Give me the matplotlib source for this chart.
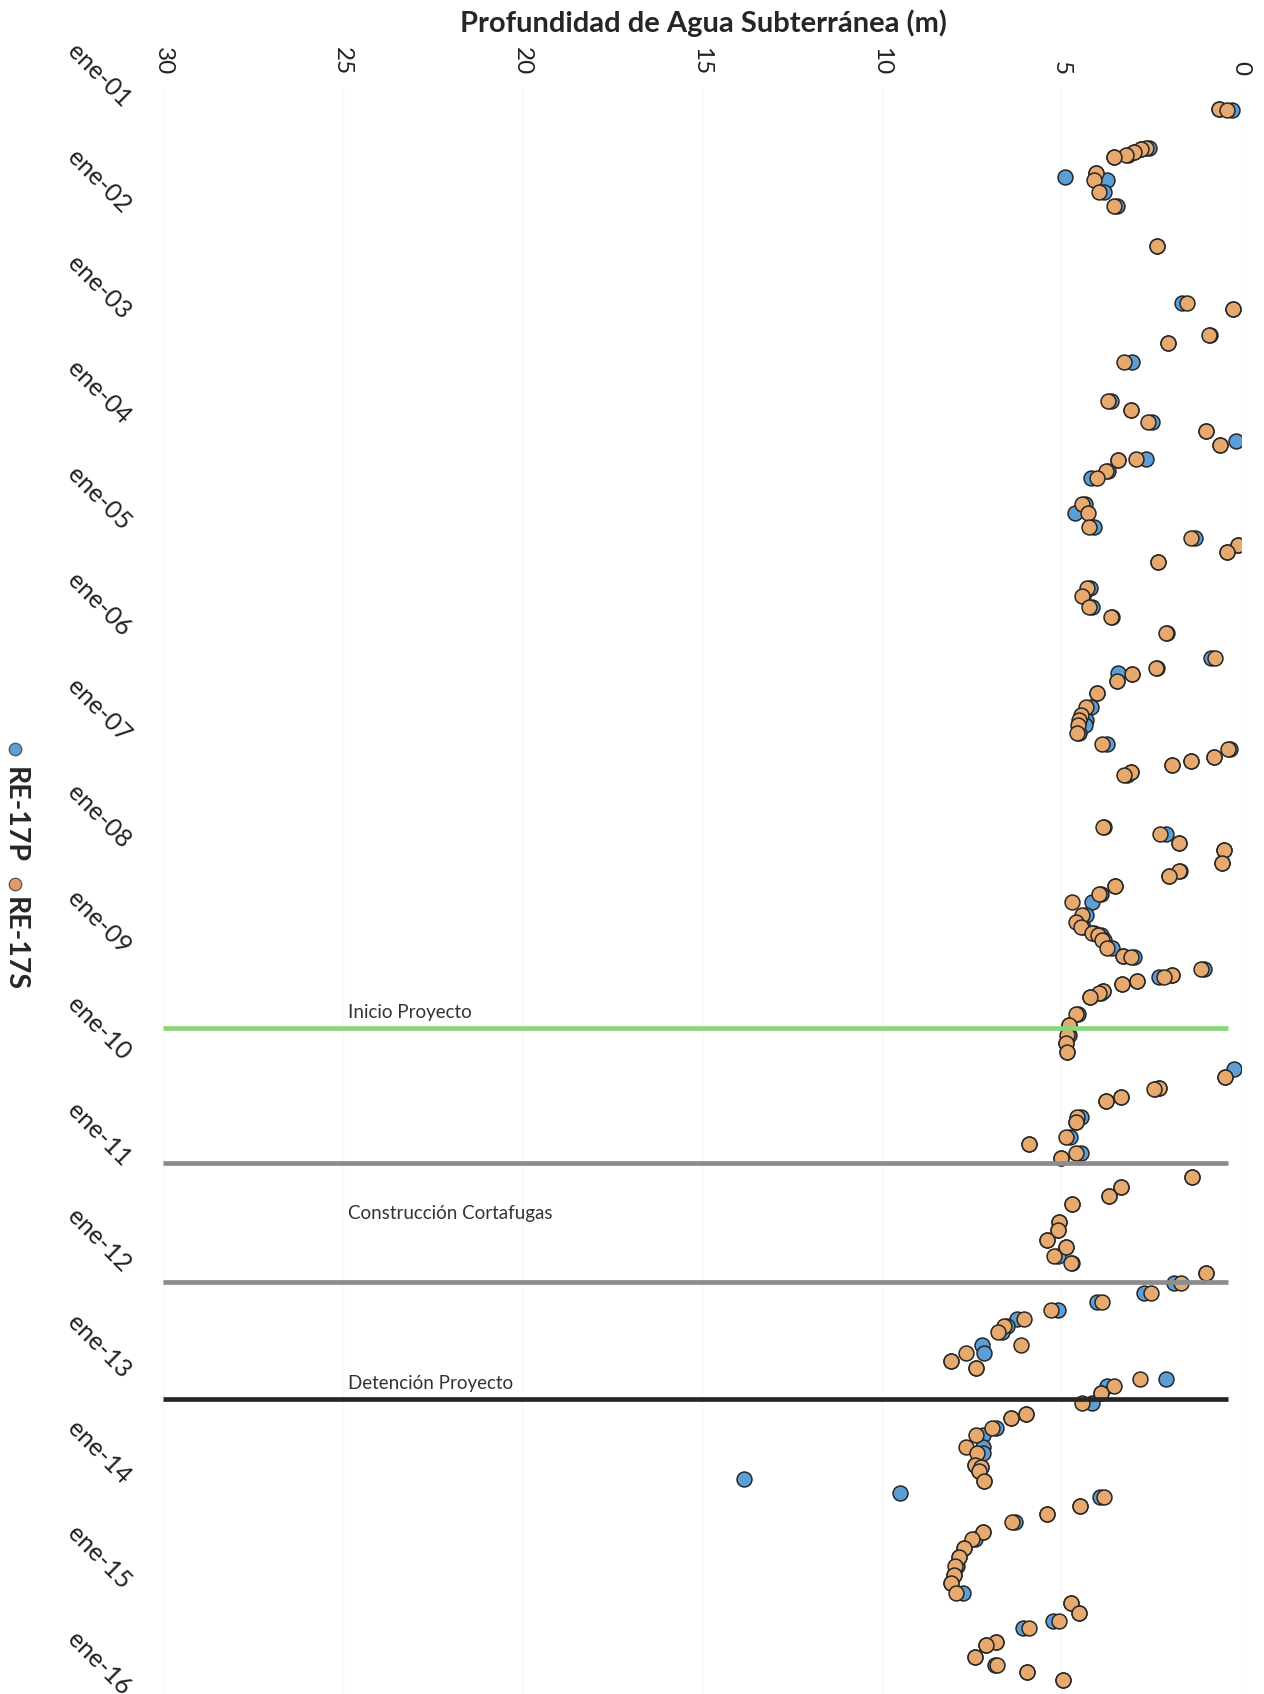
import numpy as np
import pandas as pd
import matplotlib
matplotlib.use('Agg')
import matplotlib.pyplot as plt
import matplotlib.dates as mdates
from matplotlib.lines import Line2D
from matplotlib.ticker import FuncFormatter

plt.rcParams['font.family'] = ['Lato', 'DejaVu Sans']

# Fechas de medicion (comunes a ambos pozos)
fechas = [
    '2001-01-23', '2001-01-26', '2001-06-05', '2001-06-08', '2001-06-19', '2001-06-29',
    '2001-07-06', '2001-08-30', '2001-09-23', '2001-11-03', '2001-12-21', '2002-05-08',
    '2002-11-22', '2002-12-12', '2003-03-11', '2003-04-10', '2003-06-12', '2003-10-24',
    '2003-11-24', '2004-01-05', '2004-02-05', '2004-03-24', '2004-05-12', '2004-05-15',
    '2004-06-22', '2004-07-16', '2004-10-14', '2004-11-14', '2005-01-02', '2005-02-09',
    '2005-03-05', '2005-03-29', '2005-05-03', '2005-07-31', '2005-08-28', '2005-10-05',
    '2005-11-08', '2006-01-02', '2006-03-29', '2006-05-03', '2006-05-24', '2006-06-17',
    '2006-07-28', '2006-09-14', '2006-10-12', '2006-10-29', '2006-11-15', '2006-12-13',
    '2007-01-20', '2007-02-06', '2007-03-06', '2007-03-19', '2007-04-02', '2007-04-26',
    '2007-05-07', '2007-11-02', '2007-11-26', '2007-12-27', '2008-01-20', '2008-03-05',
    '2008-04-02', '2008-04-19', '2008-05-24', '2008-06-20', '2008-07-18', '2008-09-01',
    '2008-09-25', '2008-10-12', '2008-11-02', '2008-11-09', '2008-11-26', '2008-12-24',
    '2009-01-21', '2009-01-24', '2009-03-07', '2009-03-27', '2009-04-03', '2009-04-17',
    '2009-04-27', '2009-05-21', '2009-05-28', '2009-06-11', '2009-08-08', '2009-09-15',
    '2009-10-20', '2009-11-16', '2009-12-17', '2010-03-13', '2010-04-20', '2010-04-23',
    '2010-05-21', '2010-06-04', '2010-07-29', '2010-08-15', '2010-10-06', '2010-10-30',
    '2010-11-30', '2010-12-17', '2011-02-21', '2011-03-30', '2011-04-27', '2011-05-25',
    '2011-07-26', '2011-08-22', '2011-09-26', '2011-10-23', '2011-11-20', '2011-12-14',
    '2012-01-18', '2012-02-22', '2012-03-28', '2012-04-28', '2012-05-26', '2012-06-26',
    '2012-07-20', '2012-08-09', '2012-09-23', '2012-10-21', '2012-11-17', '2012-12-11',
    '2013-01-18', '2013-02-12', '2013-03-07', '2013-04-11', '2013-05-19', '2013-06-02',
    '2013-07-06', '2013-07-30', '2013-09-10', '2013-09-30', '2013-11-10', '2013-11-17',
    '2013-12-01', '2014-01-05', '2014-03-01', '2014-04-01', '2014-04-28', '2014-05-26',
    '2014-06-30', '2014-07-24', '2014-08-24', '2014-09-24', '2014-10-25', '2014-11-24',
    '2014-12-22', '2015-01-25', '2015-03-01', '2015-04-04', '2015-05-02', '2015-05-26',
    '2015-07-13', '2015-07-24', '2015-09-03', '2015-10-01', '2015-10-25', '2015-11-21',
]

# Profundidad (m) pozo RE-17S
prof_re17s = [
    0.61, 0.39, 2.65, 2.79, 2.98, 3.20,
    3.54, 4.04, 4.09, 3.96, 3.54, 2.34,
    1.50, 0.22, 0.89, 2.03, 3.26, 3.70,
    3.06, 2.59, 0.97, 0.58, 2.92, 3.43,
    3.76, 4.01, 4.43, 4.26, 4.23, 1.39,
    0.08, 0.39, 2.31, 4.29, 4.43, 4.23,
    3.62, 2.09, 0.72, 2.37, 3.04, 3.45,
    4.01, 4.32, 4.46, 4.51, 4.54, 4.57,
    3.87, 0.36, 0.75, 1.39, 1.92, 3.06,
    3.26, 3.84, 2.26, 1.73, 0.47, 0.53,
    1.73, 2.01, 3.51, 3.96, 4.71, 4.43,
    4.60, 4.46, 4.15, 3.98, 3.87, 3.73,
    3.29, 3.06, 1.11, 1.92, 2.14, 2.90,
    3.31, 3.84, 3.96, 4.21, 4.60, 4.79,
    4.85, 4.87, 4.85, 0.45, 2.28, 2.42,
    3.34, 3.76, 4.57, 4.60, 4.87, 5.91,
    4.60, 5.01, 1.36, 3.34, 3.68, 4.71,
    5.07, 5.10, 5.40, 4.87, 5.21, 4.74,
    0.97, 1.67, 2.51, 3.87, 5.29, 6.04,
    6.60, 6.77, 6.13, 7.66, 8.08, 7.38,
    2.81, 3.54, 3.90, 4.43, 5.99, 6.41,
    6.94, 7.38, 7.66, 7.35, 7.41, 7.24,
    7.30, 7.16, 3.82, 4.48, 5.40, 6.38,
    7.19, 7.49, 7.72, 7.86, 7.97, 7.99,
    8.08, 7.94, 4.74, 4.51, 5.07, 5.91,
    6.82, 7.10, 7.41, 6.80, 5.96, 4.96,
]

# Profundidad (m) pozo RE-17P en las mismas fechas
prof_re17p = [
    0.61, 0.25, 2.55, 2.79, 2.98, 3.15,
    3.54, 4.04, 3.73, 3.82, 3.45, 2.34,
    1.64, 0.22, 0.85, 2.03, 3.04, 3.62,
    3.06, 2.48, 0.97, 0.58, 2.65, 3.43,
    3.70, 4.18, 4.35, 4.62, 4.09, 1.28,
    0.08, 0.39, 2.31, 4.20, 4.40, 4.15,
    3.58, 2.05, 0.84, 2.33, 3.04, 3.45,
    4.01, 4.18, 4.40, 4.30, 4.35, 4.50,
    3.73, 0.30, 0.75, 1.39, 1.92, 3.06,
    3.18, 3.80, 2.09, 1.73, 0.47, 0.53,
    1.70, 2.01, 3.51, 3.90, 4.15, 4.32,
    4.55, 4.40, 4.10, 3.90, 3.80, 3.59,
    3.29, 2.98, 1.03, 1.92, 2.28, 2.90,
    3.31, 3.84, 3.90, 4.21, 4.55, 4.79,
    4.80, 4.87, 4.85, 0.45, 2.28, 2.40,
    3.34, 3.76, 4.46, 4.60, 4.76, 5.91,
    4.46, 5.01, 1.36, 3.34, 3.68, 4.71,
    5.07, 5.10, 5.40, 4.87, 5.10, 4.71,
    0.97, 1.87, 2.70, 4.01, 5.10, 6.24,
    6.52, 6.66, 7.21, 7.16, 8.08, 7.38,
    2.09, 3.73, 3.90, 4.15, 5.99, 6.41,
    6.82, 7.19, 7.19, 7.19, 7.41, 7.24,
    7.30, 7.16, 3.93, 4.48, 5.40, 6.30,
    7.19, 7.40, 7.72, 7.86, 7.90, 7.99,
    8.08, 7.74, 4.74, 4.51, 5.24, 6.07,
    6.82, 7.10, 7.41, 6.85, 5.96, 4.96,
]

# Mediciones adicionales de RE-17P
fechas_re17p_extra = ['2001-09-13', '2004-03-11', '2006-05-20', '2010-02-14', '2013-12-28', '2014-02-17']
prof_re17p_extra = [4.90, 0.14, 3.43, 0.19, 13.84, 9.50]

# Hitos del proyecto
fechas_hitos = ['2009-09-25', '2011-01-04', '2012-02-18', '2013-03-28']
colores_hitos = ['#8ad67a', '#8c8c8c', '#8c8c8c', '#262626']
textos_hitos = ['Inicio Proyecto', 'Construcción Cortafugas', 'Detención Proyecto']
fechas_textos = ['2009-09-25', '2011-06-28', '2013-03-28']

assert len(fechas) == len(prof_re17s) == len(prof_re17p)

AZUL = '#5b9fd6'
NARANJA = '#e8a96e'
BORDE = '#262626'

W, H = 1264, 1694
fig = plt.figure(figsize=(W / 100, H / 100), dpi=100)
ax = fig.add_axes([163 / W, 0.0, (1241 - 163) / W, (H - 88) / H])

t = pd.to_datetime(fechas)
t_extra = pd.to_datetime(fechas_re17p_extra)

ax.scatter(np.r_[prof_re17p, prof_re17p_extra], list(t) + list(t_extra), s=115,
           color=AZUL, edgecolor=BORDE, linewidth=1.1, zorder=3)
ax.scatter(prof_re17s, t, s=115, color=NARANJA, edgecolor=BORDE, linewidth=1.1, zorder=4)

# Lineas de hitos (por encima de los puntos)
for f, c in zip(fechas_hitos, colores_hitos):
    d = pd.Timestamp(f)
    ax.plot([30, 0.35], [d, d], color=c, linewidth=3.4, solid_capstyle='butt', zorder=6)

for txt, f in zip(textos_hitos, fechas_textos):
    va = 'center' if 'Construcción' in txt else 'bottom'
    dy = 0 if va == 'center' else 5
    ax.annotate(txt, (24.85, pd.Timestamp(f)), xytext=(0, dy), textcoords='offset points',
                ha='left', va=va, fontsize=13.5, color='#333333', zorder=7)

# Ejes: profundidad invertida arriba, tiempo hacia abajo
ax.set_xlim(30, 0)
ax.set_ylim(pd.Timestamp('2016-01-10'), pd.Timestamp('2000-11-10'))
ax.xaxis.tick_top()
ax.set_xticks([30, 25, 20, 15, 10, 5, 0])
ax.tick_params(axis='x', length=0, pad=9, labelsize=17.5, labelcolor='#222222',
               labelrotation=-90)
for lbl in ax.get_xticklabels():
    lbl.set_va('bottom')

ax.yaxis.set_major_locator(mdates.YearLocator())
ax.yaxis.set_major_formatter(FuncFormatter(
    lambda v, p: f"ene-{mdates.num2date(v).year % 100:02d}"))
ax.tick_params(axis='y', length=0, pad=26, labelsize=18, labelcolor='#222222')
for lbl in ax.get_yticklabels():
    lbl.set_rotation(-45)
    lbl.set_rotation_mode('anchor')
    lbl.set_ha('right')
    lbl.set_va('center')

ax.grid(axis='x', color='#f7f7f7', linewidth=1)
ax.set_axisbelow(True)
for s in ax.spines.values():
    s.set_visible(False)

fig.text(703 / W, 1 - 23 / H, 'Profundidad de Agua Subterránea (m)', ha='center',
         va='center', fontsize=21, fontweight='bold', color='#262626')

# Leyenda vertical a la izquierda
for y_mk, y_tx, c, nombre in [(749, 815, AZUL, 'RE-17P'), (884, 944, '#e09a6c', 'RE-17S')]:
    fig.add_artist(Line2D([15 / W], [1 - y_mk / H], marker='o', markersize=9,
                          markerfacecolor=c, markeredgecolor='#555555',
                          markeredgewidth=0.9, linestyle='none', transform=fig.transFigure))
    fig.text(15 / W, 1 - y_tx / H, nombre, rotation=-90, ha='center', va='center',
             fontsize=20.5, fontweight='bold', color='#262626')

fig.savefig('out.png', dpi=100)
